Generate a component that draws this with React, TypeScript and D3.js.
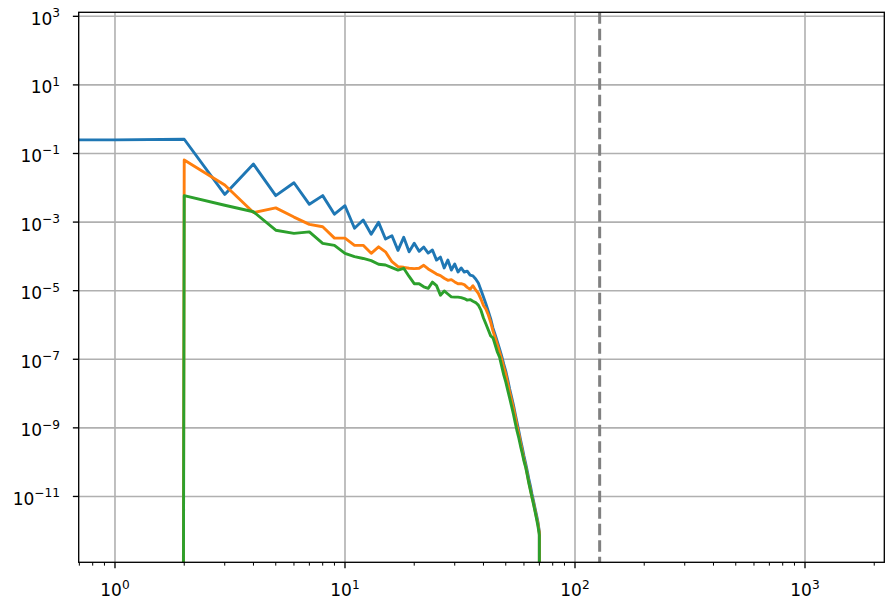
import * as d3 from "d3";

// spectra indexed by wavenumber k = 0, 1, 2, ... (zeros are clipped like matplotlib's log scale)
const blueSpectrum = [
  0.25, 0.25, 0.26, 0.0064, 0.049, 0.0059, 0.014, 0.0033, 0.0059, 0.0017,
  0.003, 6.6e-4, 1.15e-3, 4.4e-4, 9.8e-4, 3.2e-4, 4.0e-4, 1.5e-4, 3.6e-4, 1.36e-4,
  2.4e-4, 1.4e-4, 1.87e-4, 1.25e-4, 1.53e-4, 7.8e-5, 9.5e-5, 4.6e-5, 7.8e-5, 4.0e-5,
  6.0e-5, 3.5e-5, 4.6e-5, 3.5e-5, 3.7e-5, 2.85e-5, 2.7e-5, 2.2e-5, 1.67e-5, 1.04e-5,
  6.5e-6, 4.1e-6, 2.5e-6, 1.5e-6, 8.1e-7, 5.1e-7, 3.2e-7, 2.0e-7, 1.24e-7, 7.2e-8,
  4.5e-8, 2.5e-8, 1.35e-8, 7.9e-9, 4.6e-9, 2.5e-9, 1.4e-9, 8e-10, 4.4e-10, 2.6e-10,
  1.5e-10, 9.3e-11, 5.5e-11, 3.2e-11, 2.0e-11, 1.17e-11, 7.4e-12, 4.6e-12, 2.9e-12, 1.8e-12,
  9e-13, 0,
];

const orangeSpectrum = [
  0, 0, 0.065, 0.012, 0.0019, 0.0026, 0.0014, 8.6e-4, 7.3e-4, 3.4e-4,
  3.4e-4, 2.1e-4, 2.1e-4, 1.23e-4, 1.9e-4, 1.36e-4, 7e-5, 5e-5, 4.8e-5, 4.5e-5,
  4.4e-5, 4.5e-5, 5.5e-5, 4.3e-5, 3.6e-5, 3.05e-5, 2.75e-5, 2.3e-5, 2.0e-5, 2.1e-5,
  1.8e-5, 1.6e-5, 1.6e-5, 1.5e-5, 1.25e-5, 1.1e-5, 1.4e-5, 1.05e-5, 8.3e-6, 5.7e-6,
  3.7e-6, 2.9e-6, 1.95e-6, 1.2e-6, 6.6e-7, 4.2e-7, 2.6e-7, 1.6e-7, 1.0e-7, 5.9e-8,
  3.7e-8, 2.0e-8, 1.1e-8, 6.5e-9, 3.8e-9, 2.1e-9, 1.13e-9, 6.6e-10, 3.6e-10, 2.1e-10,
  1.23e-10, 7.7e-11, 4.5e-11, 2.6e-11, 1.63e-11, 9.5e-12, 6.5e-12, 4e-12, 2.5e-12, 1.6e-12,
  8.5e-13, 0,
];

const greenSpectrum = [
  0, 0, 0.0059, 0.0031, 0.002, 5.8e-4, 4.7e-4, 5.2e-4, 2.4e-4, 2.1e-4,
  1.23e-4, 9.8e-5, 8.7e-5, 7.5e-5, 5.9e-5, 5.6e-5, 4.7e-5, 4.0e-5, 4.5e-5, 2.6e-5,
  1.6e-5, 1.6e-5, 1.3e-5, 1.17e-5, 1.78e-5, 1.4e-5, 7.4e-6, 9.8e-6, 8e-6, 6.6e-6,
  6.5e-6, 6.5e-6, 6.3e-6, 5.9e-6, 5.3e-6, 5.5e-6, 4.9e-6, 4.5e-6, 3.8e-6, 2.7e-6,
  1.6e-6, 1.07e-6, 7.1e-7, 4.8e-7, 4.2e-7, 2.6e-7, 1.6e-7, 1.16e-7, 6.3e-8, 3.5e-8,
  2.2e-8, 1.26e-8, 7.4e-9, 4.3e-9, 2.5e-9, 1.38e-9, 8e-10, 5e-10, 2.9e-10, 1.8e-10,
  1.07e-10, 7.2e-11, 4.2e-11, 2.45e-11, 1.5e-11, 9.5e-12, 6e-12, 3.7e-12, 2.3e-12, 1.37e-12,
  7.5e-13, 0,
];

const SERIES = [
  { key: "blue", values: blueSpectrum, color: "#1f77b4" },
  { key: "orange", values: orangeSpectrum, color: "#ff7f0e" },
  { key: "green", values: greenSpectrum, color: "#2ca02c" },
];

const X_EXPONENTS = [0, 1, 2, 3];
const Y_EXPONENTS = [-11, -9, -7, -5, -3, -1, 1, 3];
const CUTOFF_K = 128;

const X_DOMAIN = [0.6954, 2212];
const Y_DOMAIN = [10 ** -12.92, 10 ** 3.117];

const W = 894;
const H = 610;
const PLOT = { left: 78.7, right: 884.3, top: 12.3, bottom: 562.3 };
const PT = 120 / 72;
const FONT = "'DejaVu Sans', sans-serif";

export default function App() {
  const x = d3.scaleLog().domain(X_DOMAIN).range([PLOT.left, PLOT.right]);
  const y = d3.scaleLog().domain(Y_DOMAIN).range([PLOT.bottom, PLOT.top]);

  // matplotlib clips non-positive values on log axes to 1000 decades away
  const xDec = x(10) - x(1);
  const yDec = y(0.1) - y(1);
  const px = (k: number) => (k > 0 ? x(k) : x(1) - 1000 * xDec);
  const py = (v: number) => (v > 0 ? y(v) : y(1) + 1000 * yDec);

  const line = d3
    .line<number>()
    .x((_, i) => px(i))
    .y((v) => py(v));

  const xMajor = X_EXPONENTS.map((e) => 10 ** e);
  const xMinor = x.ticks().filter((t) => {
    const l = Math.log10(t);
    return Math.abs(l - Math.round(l)) > 1e-6;
  });

  const plotW = PLOT.right - PLOT.left;
  const plotH = PLOT.bottom - PLOT.top;
  const sup = (e: number) => String(e).replace("-", "\u2212");

  return (
    <svg
      width={W}
      height={H}
      viewBox={`0 0 ${W} ${H}`}
      style={{ position: "absolute", left: 0, top: 0, background: "#fff" }}
      fontFamily={FONT}
    >
      <defs>
        <clipPath id="plot-clip">
          <rect x={PLOT.left} y={PLOT.top} width={plotW} height={plotH} />
        </clipPath>
      </defs>
      <rect x={0} y={0} width={W} height={H} fill="#fff" />

      {/* grid */}
      {xMajor.map((t) => (
        <line key={`gx${t}`} x1={x(t)} x2={x(t)} y1={PLOT.top} y2={PLOT.bottom} stroke="#b0b0b0" strokeWidth={1.6} />
      ))}
      {Y_EXPONENTS.map((e) => (
        <line key={`gy${e}`} x1={PLOT.left} x2={PLOT.right} y1={y(10 ** e)} y2={y(10 ** e)} stroke="#b0b0b0" strokeWidth={1.6} />
      ))}

      <g clipPath="url(#plot-clip)">
        {SERIES.map((s) => (
          <path
            key={s.key}
            d={line(s.values) ?? undefined}
            fill="none"
            stroke={s.color}
            strokeWidth={2.9}
            strokeLinejoin="round"
            strokeLinecap="butt"
          />
        ))}
        <line
          x1={x(CUTOFF_K)}
          x2={x(CUTOFF_K)}
          y1={PLOT.top}
          y2={PLOT.bottom}
          stroke="#808080"
          strokeWidth={3}
          strokeDasharray="11.5 5"
        />
      </g>

      {/* spines */}
      <rect x={PLOT.left} y={PLOT.top} width={plotW} height={plotH} fill="none" stroke="#000" strokeWidth={0.8 * PT} />

      {/* x ticks */}
      {xMinor.map((t) => (
        <line key={`mx${t}`} x1={x(t)} x2={x(t)} y1={PLOT.bottom} y2={PLOT.bottom + 2 * PT} stroke="#000" strokeWidth={0.6 * PT} />
      ))}
      {X_EXPONENTS.map((e) => (
        <g key={`tx${e}`}>
          <line x1={x(10 ** e)} x2={x(10 ** e)} y1={PLOT.bottom} y2={PLOT.bottom + 3.5 * PT} stroke="#000" strokeWidth={0.8 * PT} />
          <text x={x(10 ** e)} y={596} textAnchor="middle" fontSize={10.2 * PT} fill="#000">
            <tspan>10</tspan>
            <tspan dy={-7} fontSize={7.3 * PT}>{sup(e)}</tspan>
          </text>
        </g>
      ))}

      {/* y ticks */}
      {Y_EXPONENTS.map((e) => (
        <g key={`ty${e}`}>
          <line x1={PLOT.left - 3.5 * PT} x2={PLOT.left} y1={y(10 ** e)} y2={y(10 ** e)} stroke="#000" strokeWidth={0.8 * PT} />
          <text x={60} y={y(10 ** e) + 8.5} textAnchor="end" fontSize={10.2 * PT} fill="#000">
            <tspan>10</tspan>
            <tspan dy={-7.5} fontSize={7.3 * PT}>{sup(e)}</tspan>
          </text>
        </g>
      ))}
    </svg>
  );
}
